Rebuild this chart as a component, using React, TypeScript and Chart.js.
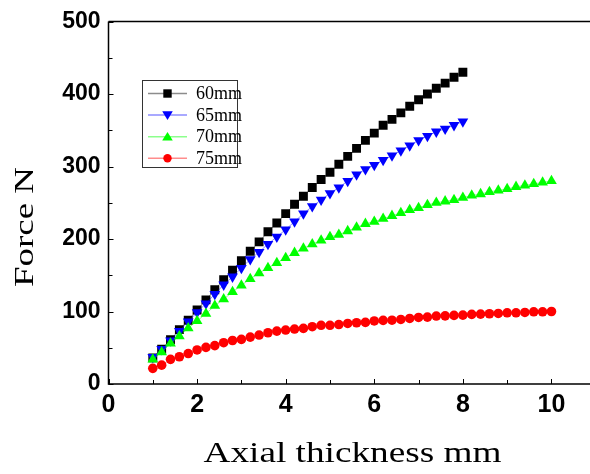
import React, { useEffect, useRef } from 'react';
import { Chart, registerables } from 'chart.js';
Chart.register(...registerables);

const seriesLabels = ['60mm', '65mm', '70mm', '75mm'];
const seriesColors = ['#000000', '#0000ff', '#00ff00', '#ff0000'];
const lineColors = ['rgba(0,0,0,0.45)', 'rgba(0,0,255,0.45)', 'rgba(0,255,0,0.45)', 'rgba(255,0,0,0.45)'];

const xShort = [1.0, 1.2, 1.4, 1.6, 1.8, 2.0, 2.2, 2.4, 2.6, 2.8, 3.0, 3.2, 3.4, 3.6, 3.8, 4.0, 4.2, 4.4, 4.6, 4.8, 5.0, 5.2, 5.4, 5.6, 5.8, 6.0, 6.2, 6.4, 6.6, 6.8, 7.0, 7.2, 7.4, 7.6, 7.8, 8.0];
const xLong = [1.0, 1.2, 1.4, 1.6, 1.8, 2.0, 2.2, 2.4, 2.6, 2.8, 3.0, 3.2, 3.4, 3.6, 3.8, 4.0, 4.2, 4.4, 4.6, 4.8, 5.0, 5.2, 5.4, 5.6, 5.8, 6.0, 6.2, 6.4, 6.6, 6.8, 7.0, 7.2, 7.4, 7.6, 7.8, 8.0, 8.2, 8.4, 8.6, 8.8, 9.0, 9.2, 9.4, 9.6, 9.8, 10.0];

const force60 = [36, 48, 61, 75, 88, 102, 116, 130, 144, 157, 170, 183, 196, 210, 222, 235, 248, 259, 271, 282, 292, 303, 314, 325, 336, 346, 357, 365, 374, 383, 392, 400, 408, 415, 423, 430];
const force65 = [37, 48, 60, 73, 86, 99, 111, 124, 137, 148, 160, 172, 182, 193, 203, 213, 224, 235, 245, 254, 263, 271, 280, 289, 296, 302, 309, 315, 322, 329, 336, 342, 348, 352, 357, 362];
const force70 = [34, 44, 56, 66, 77, 87, 97, 108, 117, 127, 136, 145, 153, 160, 167, 174, 181, 187, 193, 198, 203, 206, 211, 216, 221, 224, 228, 232, 236, 240, 243, 247, 250, 252, 254, 257, 260, 262, 265, 267, 269, 272, 274, 276, 278, 280];
const force75 = [21.6, 26, 34, 37.6, 42, 47, 50.5, 53, 57, 60, 61.5, 64.7, 67.5, 70.7, 73, 74.4, 75.8, 76.7, 79, 81, 81, 82, 83.5, 84.5, 85, 87, 87.7, 88, 89, 90.4, 91.8, 92.3, 93.7, 94, 94.6, 95, 96, 96.4, 96.9, 97.3, 98.2, 98.2, 98.7, 99.6, 99.6, 100];

const xTickLabels = [0, 2, 4, 6, 8, 10];
const xMinorTicks = [0, 1, 2, 3, 4, 5, 6, 7, 8, 9, 10];
const yMinorTicks = [0, 50, 100, 150, 200, 250, 300, 350, 400, 450, 500];
const xTitle = 'Axial thickness mm';
const yTitle = 'Force N';

function pts(xs: number[], ys: number[]) {
  return xs.map((x, i) => ({ x, y: ys[i] }));
}

function drawMarker(ctx: CanvasRenderingContext2D, style: string, cx: number, cy: number, r: number, color: string) {
  ctx.fillStyle = color;
  ctx.beginPath();
  if (style === 'rect') {
    ctx.rect(cx - r, cy - r, 2 * r, 2 * r);
  } else if (style === 'down') {
    ctx.moveTo(cx - r * 1.1, cy - r * 0.8);
    ctx.lineTo(cx + r * 1.1, cy - r * 0.8);
    ctx.lineTo(cx, cy + r * 1.0);
    ctx.closePath();
  } else if (style === 'up') {
    ctx.moveTo(cx - r * 1.1, cy + r * 0.8);
    ctx.lineTo(cx + r * 1.1, cy + r * 0.8);
    ctx.lineTo(cx, cy - r * 1.0);
    ctx.closePath();
  } else {
    ctx.arc(cx, cy, r, 0, Math.PI * 2);
  }
  ctx.fill();
}

const framePlugin = {
  id: 'frame',
  afterDraw(chart: any) {
    const { ctx, chartArea: a, scales } = chart;
    const x = scales.x;
    const y = scales.y;
    ctx.save();
    ctx.strokeStyle = '#000';
    ctx.lineWidth = 1.5;
    ctx.beginPath();
    ctx.moveTo(a.left, a.top);
    ctx.lineTo(chart.width, a.top);
    ctx.moveTo(a.left, a.top);
    ctx.lineTo(a.left, a.bottom);
    ctx.lineTo(chart.width, a.bottom);
    ctx.stroke();
    ctx.lineWidth = 1;
    ctx.beginPath();
    for (const v of xMinorTicks) {
      const px = Math.round(x.getPixelForValue(v)) + 0.5;
      const len = v % 2 === 0 ? 5 : 4;
      ctx.moveTo(px, a.bottom);
      ctx.lineTo(px, a.bottom - len);
    }
    for (const v of yMinorTicks) {
      const py = Math.round(y.getPixelForValue(v)) + 0.5;
      const len = v % 100 === 0 ? 5 : 4;
      ctx.moveTo(a.left, py);
      ctx.lineTo(a.left + len, py);
    }
    ctx.stroke();

    // x tick labels
    ctx.fillStyle = '#000';
    ctx.textAlign = 'center';
    ctx.textBaseline = 'alphabetic';
    ctx.font = 'bold 25px "Liberation Sans", Arial, sans-serif';
    for (const v of xTickLabels) {
      ctx.fillText(String(v), x.getPixelForValue(v), 411.5);
    }

    // axis titles
    ctx.font = '29px "Liberation Serif", "Times New Roman", serif';
    let w = ctx.measureText(xTitle).width;
    ctx.save();
    ctx.translate(352.5, 461.5);
    ctx.scale(298 / w, 1);
    ctx.fillText(xTitle, 0, 0);
    ctx.restore();

    ctx.font = '27px "Liberation Serif", "Times New Roman", serif';
    w = ctx.measureText(yTitle).width;
    ctx.save();
    ctx.translate(33, 227);
    ctx.rotate(-Math.PI / 2);
    ctx.scale(120 / w, 1);
    ctx.fillText(yTitle, 0, 0);
    ctx.restore();

    // legend
    const lx = 142.5, ly = 80.5, lw = 95, lh = 87;
    ctx.fillStyle = '#fff';
    ctx.fillRect(lx, ly, lw, lh);
    ctx.strokeStyle = '#333';
    ctx.lineWidth = 1;
    ctx.strokeRect(lx, ly, lw, lh);
    const styles = ['rect', 'down', 'up', 'circle'];
    const sizes = [4.2, 4.8, 4.8, 4.2];
    ctx.font = '18px "Liberation Serif", "Times New Roman", serif';
    ctx.textAlign = 'left';
    ctx.textBaseline = 'middle';
    chart.data.datasets.forEach((ds: any, i: number) => {
      const cy = 93.5 + i * 21.6;
      ctx.strokeStyle = lineColors[i];
      ctx.lineWidth = 1.5;
      ctx.beginPath();
      ctx.moveTo(148, cy);
      ctx.lineTo(187, cy);
      ctx.stroke();
      drawMarker(ctx, styles[i], 167.5, cy, sizes[i], seriesColors[i]);
      ctx.fillStyle = '#000';
      ctx.fillText(ds.label, 196, cy + 1);
    });
    ctx.restore();
  },
};

export default function App() {
  const ref = useRef<HTMLCanvasElement>(null);
  useEffect(() => {
    if (!ref.current) return;
    const mk = (i: number, data: any[], style: any, radius: number, rotation = 0) => ({
      label: seriesLabels[i],
      data,
      borderColor: lineColors[i],
      borderWidth: 1,
      backgroundColor: seriesColors[i],
      pointBackgroundColor: seriesColors[i],
      pointBorderColor: seriesColors[i],
      pointBorderWidth: 0,
      pointStyle: style,
      pointRadius: radius,
      pointRotation: rotation,
      showLine: true,
      order: 4 - i,
    });
    const chart = new Chart(ref.current, {
      type: 'scatter',
      data: {
        datasets: [
          mk(0, pts(xShort, force60), 'rect', 6.3),
          mk(1, pts(xShort, force65), 'triangle', 6.2, 180),
          mk(2, pts(xLong, force70), 'triangle', 6.2),
          mk(3, pts(xLong, force75), 'circle', 4.8),
        ],
      },
      options: {
        responsive: false,
        animation: false,
        layout: { autoPadding: false, padding: { top: 21.5, right: 0, left: 0, bottom: 0 } },
        plugins: { legend: { display: false }, tooltip: { enabled: false } },
        scales: {
          x: {
            type: 'linear',
            min: 0,
            max: 10.87,
            grid: { display: false, drawTicks: false },
            border: { display: false },
            afterBuildTicks: (s: any) => {
              s.ticks = xTickLabels.map((v) => ({ value: v }));
            },
            afterFit: (s: any) => {
              s.height = 90;
              s.paddingLeft = 0;
              s.paddingRight = 0;
            },
            ticks: { display: false },
          },
          y: {
            type: 'linear',
            min: 0,
            max: 500,
            grid: { display: false, drawTicks: false },
            border: { display: false },
            afterFit: (s: any) => {
              s.width = 108.5;
              s.paddingTop = 0;
              s.paddingBottom = 0;
            },
            ticks: {
              stepSize: 100,
              color: '#000',
              padding: 8,
              font: { family: '"Liberation Sans", Arial, sans-serif', size: 23, weight: 'bold' },
            },
          },
        },
      },
      plugins: [framePlugin],
    } as any);
    return () => chart.destroy();
  }, []);
  return (
    <div style={{ position: 'fixed', left: 0, top: 0, width: 590, height: 474, background: '#fff' }}>
      <canvas ref={ref} width={590} height={474} />
    </div>
  );
}
